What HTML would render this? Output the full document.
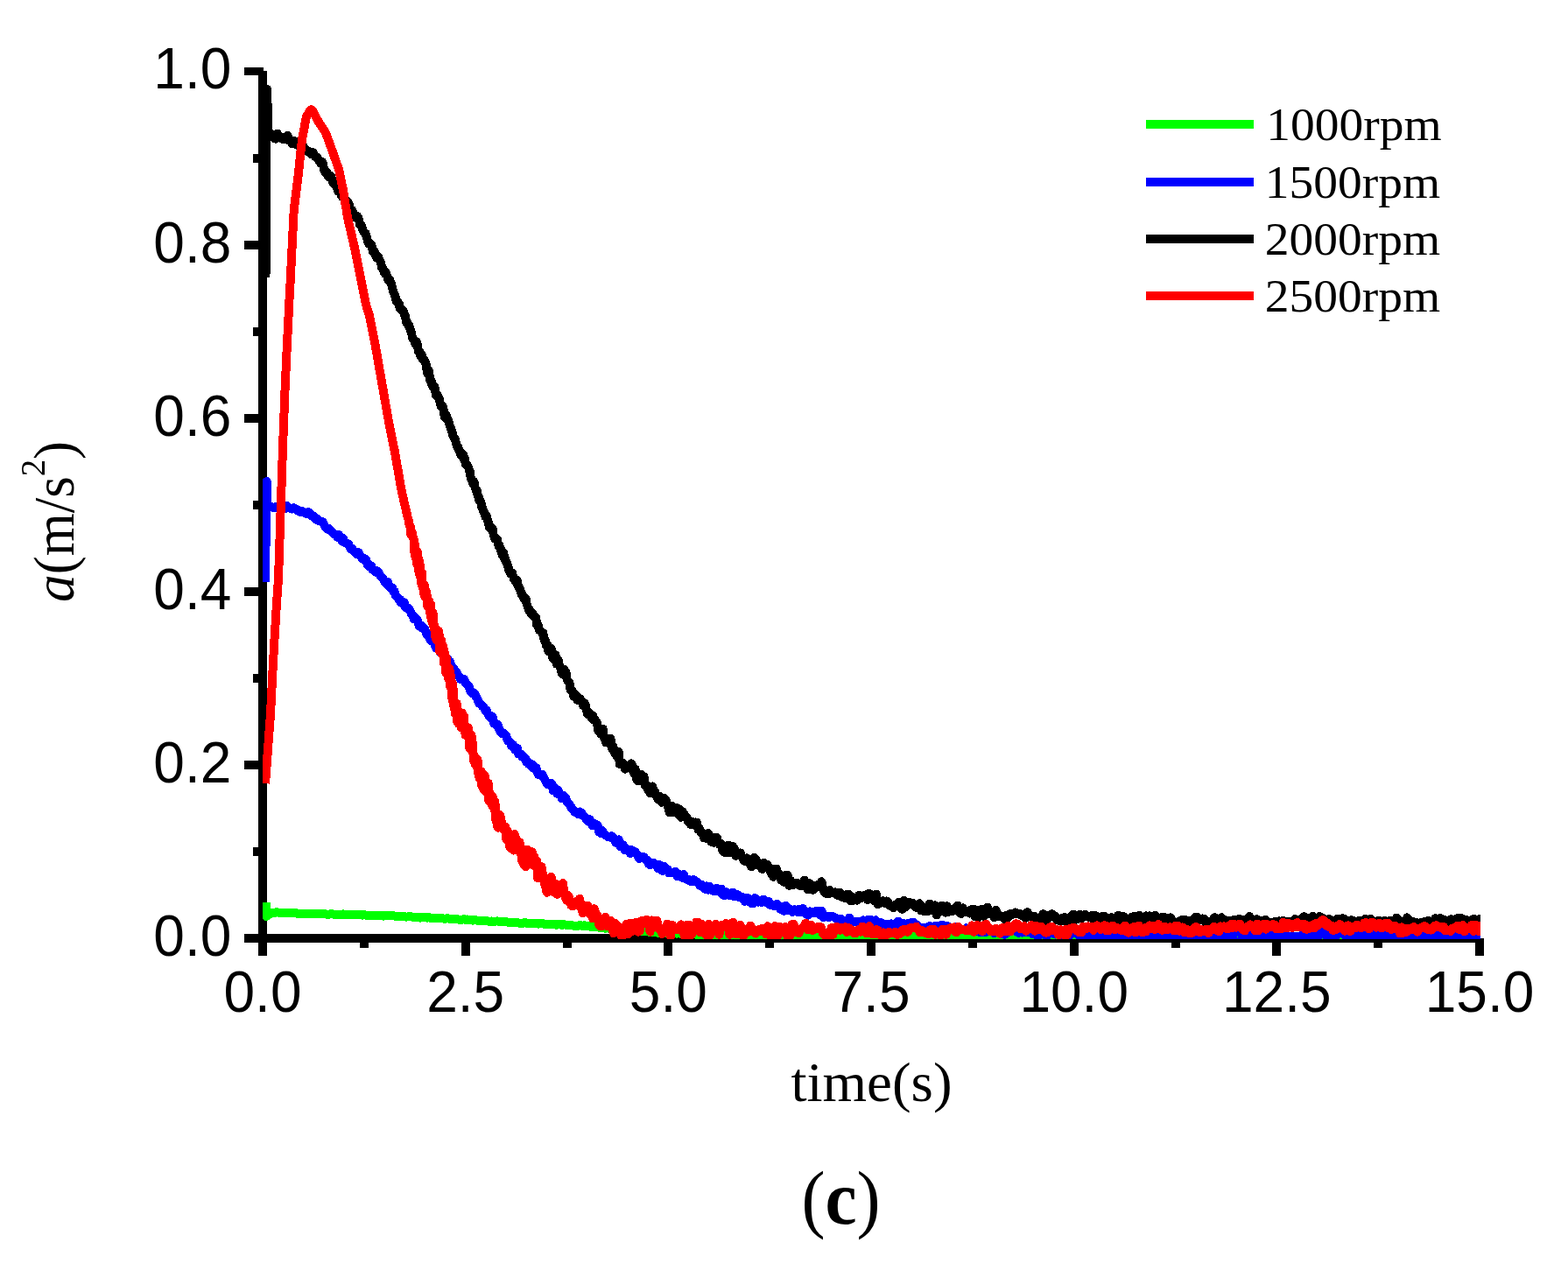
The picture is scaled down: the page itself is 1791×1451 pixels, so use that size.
<!DOCTYPE html>
<html lang="en">
<head>
<meta charset="utf-8">
<title>Acceleration vs time (c)</title>
<style>
html, body { margin: 0; padding: 0; background: #ffffff; }
body { width: 1791px; height: 1451px; overflow: hidden; }
svg { display: block; }
</style>
</head>
<body>
<svg width="1791" height="1451" viewBox="0 0 1791 1451">
<rect x="0" y="0" width="1791" height="1451" fill="#ffffff"/>
<g id="axes" fill="#000" shape-rendering="crispEdges">
<rect x="295" y="81" width="10" height="1011"/>
<rect x="279" y="1067" width="1412" height="10"/>
<rect x="295.0" y="1072" width="10" height="20"/>
<rect x="526.7" y="1072" width="10" height="20"/>
<rect x="758.3" y="1072" width="10" height="20"/>
<rect x="990.0" y="1072" width="10" height="20"/>
<rect x="1221.7" y="1072" width="10" height="20"/>
<rect x="1453.3" y="1072" width="10" height="20"/>
<rect x="1685.0" y="1072" width="10" height="20"/>
<rect x="410.8" y="1072" width="10" height="11"/>
<rect x="642.5" y="1072" width="10" height="11"/>
<rect x="874.2" y="1072" width="10" height="11"/>
<rect x="1105.8" y="1072" width="10" height="11"/>
<rect x="1337.5" y="1072" width="10" height="11"/>
<rect x="1569.2" y="1072" width="10" height="11"/>
<rect x="279" y="868.9" width="20" height="10"/>
<rect x="279" y="670.8" width="20" height="10"/>
<rect x="279" y="472.7" width="20" height="10"/>
<rect x="279" y="274.6" width="20" height="10"/>
<rect x="279" y="77" width="22" height="9"/>
<rect x="289" y="968.0" width="10" height="10"/>
<rect x="289" y="769.8" width="10" height="10"/>
<rect x="289" y="571.8" width="10" height="10"/>
<rect x="289" y="373.6" width="10" height="10"/>
<rect x="289" y="175.5" width="10" height="10"/>
</g>
<clipPath id="plotclip"><rect x="300" y="60" width="1391" height="1013"/></clipPath>
<g id="curves" clip-path="url(#plotclip)" fill="none" stroke-width="10" stroke-linejoin="round" stroke-linecap="butt" shape-rendering="crispEdges">
<polyline stroke="#00ff00" points="304.0,1031.0 304.3,1047.0 310.5,1042.7 312.0,1042.5 314.0,1042.9 316.0,1042.2 318.0,1042.6 320.0,1042.7 322.0,1043.3 324.0,1042.9 326.0,1043.4 328.0,1042.5 330.0,1043.1 332.0,1043.2 334.0,1043.3 336.0,1043.1 338.0,1043.2 340.0,1043.8 342.0,1043.8 344.0,1043.5 346.0,1043.8 348.0,1043.8 350.0,1043.9 352.0,1043.7 354.0,1044.2 356.0,1044.3 358.0,1044.1 360.0,1043.7 362.0,1043.9 364.0,1044.2 366.0,1044.1 368.0,1043.6 370.0,1044.3 372.0,1044.4 374.0,1044.7 376.0,1044.7 378.0,1044.3 380.0,1044.4 382.0,1044.8 384.0,1044.6 386.0,1045.2 388.0,1044.6 390.0,1045.0 392.0,1044.4 394.0,1045.1 396.0,1044.9 398.0,1044.5 400.0,1045.2 402.0,1045.4 404.0,1045.1 406.0,1045.4 408.0,1045.2 410.0,1044.9 412.0,1045.3 414.0,1045.6 416.0,1045.3 418.0,1045.7 420.0,1045.9 422.0,1045.9 424.0,1045.6 426.0,1046.3 428.0,1045.6 430.0,1046.0 432.0,1045.8 433.9,1045.8 435.9,1046.3 437.9,1046.6 439.9,1046.2 441.9,1045.8 443.9,1046.1 445.9,1046.3 447.9,1046.2 449.9,1046.3 451.9,1046.8 453.9,1046.9 455.9,1047.1 457.9,1047.2 459.9,1047.0 461.9,1047.1 463.9,1047.6 465.9,1047.4 467.9,1047.5 469.9,1047.3 471.9,1047.8 473.9,1048.1 475.9,1047.9 477.9,1048.3 479.9,1048.6 481.9,1048.2 483.9,1048.1 485.9,1047.9 487.9,1048.7 489.9,1048.2 491.9,1048.7 493.9,1048.9 495.9,1049.0 497.9,1049.3 499.9,1048.8 501.9,1048.9 503.9,1049.2 505.9,1049.4 507.9,1050.0 509.9,1049.4 511.9,1049.4 513.8,1049.9 515.8,1050.2 517.8,1050.0 519.8,1050.2 521.8,1050.3 523.8,1050.5 525.8,1051.0 527.8,1050.6 529.8,1050.2 531.8,1050.8 533.8,1050.5 535.8,1050.9 537.8,1050.9 539.8,1051.6 541.8,1051.3 543.8,1051.3 545.8,1051.9 547.8,1052.0 549.8,1051.8 551.8,1052.1 553.8,1052.1 555.8,1052.2 557.8,1052.5 559.8,1053.0 561.8,1052.5 563.8,1053.1 565.8,1052.7 567.8,1052.4 569.8,1052.8 571.8,1053.0 573.8,1053.4 575.8,1053.4 577.8,1053.3 579.8,1053.6 581.8,1054.2 583.8,1054.2 585.7,1054.2 587.7,1054.1 589.7,1054.0 591.7,1054.4 593.7,1054.7 595.7,1054.6 597.7,1054.6 599.7,1053.9 601.7,1054.7 603.7,1055.1 605.7,1055.1 607.7,1054.9 609.7,1054.9 611.7,1054.7 613.7,1055.5 615.7,1055.5 617.7,1055.4 619.7,1055.1 621.7,1055.7 623.7,1056.0 625.7,1056.0 627.7,1056.2 629.7,1055.9 631.7,1056.1 633.7,1056.0 635.7,1056.7 637.7,1056.1 639.7,1056.0 641.7,1057.0 643.7,1056.1 645.7,1056.6 647.7,1056.9 649.7,1056.8 651.7,1057.1 653.7,1057.4 655.7,1057.8 657.7,1057.6 659.7,1058.0 661.7,1057.1 663.7,1057.2 665.7,1058.1 667.6,1057.3 669.6,1058.3 671.6,1057.9 673.6,1058.4 675.6,1058.9 677.6,1058.9 679.6,1058.7 681.6,1059.2 683.6,1059.5 685.6,1060.0 687.6,1059.4 689.5,1060.4 691.5,1060.7 693.5,1060.4 695.5,1060.6 697.5,1060.2 699.5,1060.6 701.5,1061.2 703.5,1061.3 705.5,1061.2 707.5,1062.1 709.5,1061.6 711.4,1061.8 713.4,1062.6 715.4,1062.4 717.4,1062.2 719.4,1063.0 721.4,1062.5 723.4,1062.7 725.4,1063.0 727.4,1063.6 729.4,1063.9 731.4,1063.3 733.4,1063.6 735.4,1063.6 737.4,1064.3 739.3,1064.3 741.3,1064.6 743.3,1064.6 745.3,1064.8 747.3,1064.6 749.3,1065.1 751.3,1065.7 753.3,1065.2 755.3,1065.6 757.3,1065.5 759.3,1065.4 761.3,1065.7 763.3,1066.5 765.3,1066.1 767.3,1066.4 769.3,1066.3 771.3,1066.4 773.3,1066.6 775.3,1066.2 777.3,1066.8 779.3,1066.6 781.3,1066.9 783.2,1067.4 785.2,1067.4 787.2,1067.0 789.2,1067.3 791.2,1067.6 793.2,1067.3 795.2,1067.6 797.2,1068.0 799.2,1067.8 801.2,1067.8 803.2,1068.6 805.2,1068.1 807.2,1068.6 809.2,1068.2 811.2,1068.4 813.2,1068.5 815.2,1068.5 817.2,1067.9 819.2,1068.2 821.2,1068.5 823.2,1068.1 825.2,1068.5 827.2,1068.7 829.2,1068.0 831.2,1068.1 833.2,1068.4 835.2,1067.8 837.2,1068.0 839.2,1068.4 841.2,1068.2 843.2,1068.2 845.2,1067.8 847.2,1068.0 849.2,1068.7 851.2,1067.9 853.2,1068.3 855.2,1068.4 857.2,1068.7 859.2,1068.6 861.2,1068.0 863.2,1067.9 865.2,1068.3 867.2,1068.4 869.2,1068.1 871.2,1067.9 873.2,1067.7 875.2,1067.8 877.2,1067.8 879.2,1068.1 881.2,1068.7 883.2,1068.7 885.2,1068.3 887.2,1068.4 889.2,1068.5 891.2,1068.7 893.2,1069.0 895.2,1068.9 897.2,1068.2 899.2,1068.4 901.2,1069.1 903.2,1068.8 905.2,1068.6 907.2,1068.5 909.2,1068.7 911.2,1068.8 913.2,1068.6 915.2,1068.9 917.2,1068.0 919.2,1069.1 921.2,1068.9 923.2,1068.4 925.2,1068.9 927.2,1069.0 929.2,1068.5 931.2,1068.2 933.2,1068.2 935.2,1068.6 937.2,1068.5 939.2,1069.2 941.2,1068.9 943.2,1068.9 945.2,1069.3 947.2,1068.9 949.2,1068.7 951.2,1068.7 953.2,1068.7 955.2,1069.3 957.2,1069.2 959.2,1068.7 961.2,1069.1 963.2,1069.3 965.2,1069.2 967.2,1068.9 969.2,1068.6 971.2,1069.4 973.2,1069.4 975.2,1069.4 977.2,1069.2 979.2,1069.1 981.2,1068.7 983.2,1069.1 985.2,1068.5 987.2,1069.1 989.2,1069.1 991.2,1068.6 993.2,1068.5 995.2,1068.8 997.2,1068.8 999.2,1068.9 1001.2,1069.1 1003.2,1069.3 1005.2,1069.0 1007.2,1069.1 1009.2,1069.4 1011.2,1069.0 1013.2,1069.1 1015.2,1069.3 1017.2,1069.0 1019.2,1069.0 1021.2,1069.2 1023.2,1069.2 1025.2,1068.5 1027.2,1069.5 1029.2,1069.2 1031.2,1069.1 1033.2,1069.2 1035.2,1068.9 1037.2,1069.0 1039.2,1069.2 1041.2,1068.9 1043.2,1068.9 1045.2,1069.4 1047.2,1069.1 1049.2,1069.1 1051.2,1069.4 1053.2,1069.1 1055.2,1069.2 1057.2,1069.4 1059.2,1069.3 1061.2,1068.6 1063.2,1069.1 1065.2,1069.6 1067.2,1068.7 1069.2,1069.5 1071.2,1069.0 1073.2,1069.3 1075.2,1068.7 1077.2,1069.1 1079.2,1069.2 1081.2,1068.7 1083.2,1069.6 1085.2,1068.8 1087.2,1069.5 1089.2,1069.0 1091.2,1068.7 1093.2,1069.0 1095.2,1069.4 1097.2,1069.0 1099.2,1069.0 1101.2,1069.4 1103.2,1069.2 1105.2,1068.8 1107.2,1069.2 1109.2,1069.1 1111.2,1069.0 1113.2,1069.7 1115.2,1069.4 1117.2,1069.5 1119.2,1069.6 1121.2,1069.0 1123.2,1069.6 1125.2,1069.2 1127.2,1068.7 1129.2,1069.6 1131.2,1069.0 1133.2,1069.3 1135.2,1069.8 1137.2,1069.1 1139.2,1069.1 1141.2,1069.8 1143.2,1069.4 1145.2,1069.5 1147.2,1069.9 1149.2,1069.5 1151.2,1069.6 1153.2,1069.0 1155.2,1069.3 1157.2,1069.3 1159.2,1069.1 1161.2,1068.9 1163.2,1069.4 1165.2,1068.9 1167.2,1069.2 1169.2,1069.4 1171.2,1069.2 1173.2,1069.4 1175.2,1069.3 1177.2,1069.0 1179.2,1069.7 1181.2,1069.3 1183.2,1069.8 1185.2,1069.8 1187.2,1069.4 1189.2,1068.9 1191.2,1068.9 1193.2,1069.8 1195.2,1069.7 1197.2,1069.5 1199.2,1068.8 1201.2,1069.3 1203.2,1069.6 1205.2,1069.3 1207.2,1069.1 1209.2,1069.6 1211.2,1069.6 1213.2,1069.1 1215.2,1068.8 1217.2,1069.8 1219.2,1069.4 1221.2,1069.6 1223.2,1068.9 1225.2,1068.9 1227.2,1069.4 1229.2,1069.4 1231.2,1069.6 1233.2,1068.9 1235.2,1069.3 1237.2,1069.0 1239.2,1068.8 1241.2,1069.4 1243.2,1069.6 1245.2,1069.5 1247.2,1069.4 1249.2,1069.2 1251.2,1069.2 1253.2,1069.4 1255.2,1069.7 1257.2,1069.7 1259.2,1068.9 1261.2,1068.8 1263.2,1069.8 1265.2,1069.7 1267.2,1069.5 1269.2,1069.2 1271.2,1069.2 1273.2,1069.2 1275.2,1069.9 1277.2,1069.1 1279.2,1069.5 1281.2,1069.6 1283.2,1069.1 1285.2,1069.1 1287.2,1069.5 1289.2,1069.7 1291.2,1069.6 1293.2,1069.1 1295.2,1069.2 1297.2,1069.5 1299.2,1069.3 1301.2,1068.9 1303.2,1069.2 1305.2,1069.3 1307.2,1069.9 1309.2,1069.3 1311.2,1069.8 1313.2,1069.0 1315.2,1068.9 1317.2,1069.4 1319.2,1069.0 1321.2,1069.6 1323.2,1069.4 1325.2,1069.4 1327.2,1069.5 1329.2,1069.0 1331.2,1069.7 1333.2,1069.6 1335.2,1069.5 1337.2,1069.4 1339.2,1070.1 1341.2,1069.5 1343.2,1070.1 1345.2,1069.8 1347.2,1070.1 1349.2,1069.2 1351.2,1070.0 1353.2,1069.1 1355.2,1069.2 1357.2,1069.1 1359.2,1069.7 1361.2,1069.6 1363.2,1069.4 1365.2,1069.3 1367.2,1069.2 1369.2,1069.7 1371.2,1069.3 1373.2,1069.4 1375.2,1069.7 1377.2,1070.0 1379.2,1070.0 1381.2,1069.9 1383.2,1069.6 1385.2,1069.9 1387.2,1069.4 1389.2,1069.9 1391.2,1070.1 1393.2,1069.2 1395.2,1069.1 1397.2,1069.4 1399.2,1069.7 1401.2,1069.7 1403.2,1070.0 1405.2,1069.6 1407.2,1070.0 1409.2,1069.4 1411.2,1069.8 1413.2,1069.6 1415.2,1069.0 1417.2,1069.0 1419.2,1069.5 1421.2,1069.9 1423.2,1069.0 1425.2,1069.7 1427.2,1069.1 1429.2,1069.7 1431.2,1069.8 1433.2,1069.6 1435.2,1069.0 1437.2,1069.7 1439.2,1069.8 1441.2,1069.5 1443.2,1069.1 1445.2,1069.2 1447.2,1070.1 1449.2,1069.9 1451.2,1070.0 1453.2,1069.8 1455.2,1069.7 1457.2,1069.8 1459.2,1070.2 1461.2,1069.6 1463.2,1069.8 1465.2,1069.7 1467.2,1070.0 1469.2,1069.9 1471.2,1069.9 1473.2,1069.8 1475.2,1069.8 1477.2,1070.0 1479.2,1069.8 1481.2,1069.7 1483.2,1069.7 1485.2,1069.5 1487.2,1069.6 1489.2,1069.5 1491.2,1069.8 1493.2,1070.1 1495.2,1069.5 1497.2,1069.1 1499.2,1069.4 1501.2,1069.6 1503.2,1069.5 1505.2,1070.1 1507.2,1069.1 1509.2,1069.3 1511.2,1069.5 1513.2,1069.6 1515.2,1069.7 1517.2,1069.3 1519.2,1069.3 1521.2,1069.7 1523.2,1069.8 1525.2,1070.2 1527.2,1069.2 1529.2,1069.2 1531.2,1069.6 1533.2,1069.5 1535.2,1069.9 1537.2,1070.3 1539.2,1069.8 1541.2,1069.6 1543.2,1069.7 1545.2,1069.7 1547.2,1069.5 1549.2,1070.4 1551.2,1069.6 1553.2,1069.9 1555.2,1069.9 1557.2,1070.1 1559.2,1069.7 1561.2,1070.4 1563.2,1070.0 1565.2,1069.9 1567.2,1070.0 1569.2,1070.1 1571.2,1070.1 1573.2,1069.8 1575.2,1069.3 1577.2,1070.3 1579.2,1070.2 1581.2,1069.7 1583.2,1069.8 1585.2,1069.6 1587.2,1069.3 1589.2,1070.1 1591.2,1070.2 1593.2,1069.4 1595.2,1069.4 1597.2,1069.7 1599.2,1069.9 1601.2,1070.4 1603.2,1070.2 1605.2,1069.8 1607.2,1069.5 1609.2,1069.4 1611.2,1069.7 1613.2,1069.9 1615.2,1070.5 1617.2,1069.8 1619.2,1070.1 1621.2,1070.2 1623.2,1069.7 1625.2,1070.3 1627.2,1069.5 1629.2,1070.4 1631.2,1069.8 1633.2,1070.4 1635.2,1070.1 1637.2,1070.5 1639.2,1069.8 1641.2,1070.1 1643.2,1069.9 1645.2,1069.4 1647.2,1069.8 1649.2,1069.9 1651.2,1070.4 1653.2,1069.8 1655.2,1070.4 1657.2,1069.9 1659.2,1070.3 1661.2,1069.9 1663.2,1070.3 1665.2,1069.7 1667.2,1069.9 1669.2,1069.6 1671.2,1069.8 1673.2,1069.7 1675.2,1069.8 1677.2,1070.1 1679.2,1069.7 1681.2,1069.6 1683.2,1069.5 1685.2,1069.6 1687.2,1070.0 1689.2,1069.9 1691.2,1070.1 1693.2,1069.9 1695.2,1069.8 1697.2,1069.9 1698.7,1069.9"/>
<polyline stroke="#0000ff" points="302.7,665.0 304.0,600.0 304.8,550.0 305.5,578.0 314.0,580.3 315.5,578.6 317.5,578.9 319.5,578.6 321.5,580.8 323.5,579.5 325.5,581.2 327.5,577.9 329.5,580.0 331.5,580.7 333.5,581.5 335.4,580.3 337.3,581.3 339.2,582.2 341.1,584.2 343.0,584.8 344.9,584.2 346.8,585.0 348.7,586.5 350.6,586.7 352.4,585.1 354.2,587.2 355.8,589.6 357.4,589.2 359.0,590.6 360.5,593.2 362.1,592.6 363.7,594.8 365.2,595.2 366.8,595.9 368.4,596.1 369.9,598.9 371.5,602.3 373.1,603.8 374.6,604.8 376.2,604.2 377.8,606.0 379.3,608.0 380.9,609.1 382.5,610.6 384.0,611.0 385.6,614.0 387.2,611.2 388.7,614.0 390.3,617.9 391.8,614.9 393.3,619.5 394.8,620.7 396.3,620.8 397.8,621.2 399.3,624.6 400.8,627.1 402.2,626.7 403.7,629.2 405.2,630.4 406.7,632.7 408.2,632.1 409.6,631.2 411.1,634.0 412.6,636.3 414.1,638.6 415.5,637.7 416.9,638.4 418.3,639.9 419.7,645.4 421.2,644.3 422.6,647.8 424.0,646.5 425.4,651.0 426.8,651.2 428.2,651.8 429.6,653.9 431.1,652.6 432.5,654.0 433.9,656.7 435.3,659.3 436.6,660.0 437.9,661.8 439.2,664.0 440.5,666.2 441.7,665.1 443.0,665.1 444.2,669.9 445.5,670.1 446.8,672.1 448.0,671.2 449.3,675.9 450.6,675.5 451.8,680.3 453.1,681.2 454.4,682.6 455.6,685.5 456.9,684.8 458.1,688.7 459.4,687.8 460.6,687.6 461.8,688.7 463.0,693.7 464.3,693.9 465.5,695.5 466.7,695.0 467.9,697.3 469.1,699.2 470.4,702.3 471.6,703.3 472.8,707.5 474.0,705.5 475.2,708.2 476.4,707.6 477.7,712.2 478.9,715.5 480.1,715.5 481.3,714.8 482.5,717.9 483.8,716.9 485.0,718.2 486.2,721.7 487.4,724.5 488.6,725.7 489.8,724.4 491.1,730.2 492.3,732.1 493.5,731.2 494.7,733.5 495.9,732.5 497.1,738.0 498.4,740.6 499.6,738.8 500.8,740.9 502.0,742.9 503.2,746.0 504.4,747.1 505.7,746.0 506.9,747.3 508.1,753.7 509.3,751.0 510.6,751.9 511.8,754.1 513.0,756.6 514.2,756.5 515.4,761.6 516.7,762.5 517.9,763.7 519.1,764.8 520.3,769.0 521.6,768.6 522.8,771.3 524.0,772.5 525.2,773.2 526.4,776.5 527.7,775.4 528.9,776.7 530.1,776.0 531.3,779.3 532.5,780.6 533.8,782.4 535.0,783.6 536.2,786.0 537.4,789.8 538.6,791.6 539.9,792.2 541.1,791.8 542.3,792.7 543.5,795.8 544.7,797.5 546.0,800.3 547.2,803.6 548.4,803.6 549.6,805.0 550.8,806.9 552.0,807.0 553.3,809.5 554.5,812.3 555.7,811.4 556.9,815.1 558.1,817.0 559.3,818.7 560.6,820.6 561.8,818.4 563.0,819.9 564.2,826.7 565.4,826.9 566.6,828.0 567.9,827.4 569.1,829.2 570.3,833.2 571.6,835.9 572.9,836.6 574.1,838.5 575.4,837.7 576.7,839.4 578.0,840.2 579.3,844.9 580.6,846.8 581.8,846.8 583.1,849.0 584.4,852.5 585.7,850.7 587.0,852.8 588.2,856.4 589.5,854.4 590.8,854.8 592.1,861.4 593.4,861.3 594.8,861.5 596.1,864.4 597.4,863.9 598.8,866.1 600.1,866.5 601.5,870.9 602.8,870.1 604.2,873.2 605.5,874.1 606.9,875.9 608.2,873.4 609.6,877.8 610.9,877.4 612.3,877.1 613.6,882.5 615.0,885.2 616.4,884.3 617.8,886.0 619.2,884.8 620.6,887.2 622.0,890.3 623.4,893.1 624.8,895.5 626.3,896.4 627.7,895.0 629.1,894.8 630.5,896.2 631.9,903.5 633.3,899.6 634.7,902.2 636.2,906.6 637.6,902.8 639.0,907.1 640.5,909.0 641.9,912.3 643.4,909.0 644.8,909.9 646.3,911.6 647.7,916.3 649.1,917.2 650.6,919.5 652.0,921.7 653.5,924.3 654.9,925.1 656.4,927.8 657.8,927.5 659.3,929.2 660.8,930.2 662.4,927.5 663.9,928.4 665.5,932.0 667.1,932.2 668.6,934.4 670.2,936.8 671.8,938.6 673.3,936.2 674.9,938.5 676.5,943.5 678.0,940.5 679.6,941.6 681.2,942.0 682.7,943.3 684.3,950.4 685.9,951.8 687.4,948.4 689.0,951.0 690.6,952.9 692.1,954.8 693.7,955.2 695.3,956.4 697.0,956.6 698.6,955.4 700.3,956.8 701.9,959.7 703.5,962.8 705.2,959.7 706.8,959.4 708.4,967.1 710.1,966.6 711.7,965.2 713.4,971.1 715.0,969.1 716.7,971.2 718.4,970.7 720.1,975.1 721.8,971.2 723.5,974.4 725.2,973.1 727.0,975.3 728.7,978.2 730.4,981.0 732.1,979.1 733.8,978.7 735.5,979.3 737.3,981.8 739.0,982.5 740.8,986.9 742.6,988.4 744.3,986.6 746.1,985.7 747.9,987.2 749.7,988.1 751.5,992.2 753.3,988.2 755.1,993.8 756.9,995.1 758.6,989.6 760.4,992.5 762.3,992.9 764.1,997.4 766.0,997.3 767.8,996.7 769.7,996.4 771.6,996.1 773.4,1001.2 775.3,998.9 777.1,1001.2 779.0,1002.6 780.8,999.0 782.7,1003.3 784.6,1004.9 786.4,1004.8 788.3,1006.4 790.1,1007.3 792.0,1005.2 793.8,1006.2 795.7,1007.3 797.5,1008.5 799.4,1011.6 801.3,1010.9 803.1,1012.4 805.0,1015.6 806.8,1012.4 808.7,1016.6 810.6,1012.7 812.5,1015.6 814.4,1017.8 816.3,1018.4 818.2,1014.8 820.1,1018.0 822.0,1018.8 823.9,1015.5 825.7,1022.4 827.6,1023.4 829.5,1019.1 831.5,1021.0 833.4,1023.3 835.3,1021.6 837.2,1019.6 839.1,1024.4 841.0,1023.6 842.9,1022.4 844.8,1025.1 846.7,1024.8 848.7,1025.2 850.6,1029.7 852.5,1026.4 854.5,1026.2 856.4,1030.5 858.3,1032.0 860.3,1032.2 862.2,1026.1 864.2,1028.0 866.1,1030.7 868.1,1030.0 870.0,1030.8 871.9,1027.5 873.9,1029.4 875.9,1031.8 877.8,1029.7 879.8,1034.0 881.7,1034.0 883.7,1035.0 885.7,1034.2 887.6,1032.9 889.6,1035.0 891.5,1038.7 893.5,1039.9 895.5,1040.7 897.4,1034.6 899.4,1036.9 901.4,1040.4 903.3,1039.0 905.3,1042.0 907.2,1039.2 909.2,1039.6 911.1,1042.0 913.1,1038.6 915.1,1042.2 917.0,1037.8 919.0,1043.0 921.0,1044.6 923.0,1045.7 924.9,1041.4 926.9,1042.2 928.9,1043.5 930.8,1043.0 932.8,1040.9 934.8,1040.9 936.8,1045.5 938.7,1041.1 940.7,1048.2 942.7,1046.7 944.6,1046.8 946.6,1048.3 948.5,1046.7 950.5,1047.1 952.5,1047.7 954.4,1048.5 956.4,1051.1 958.3,1052.2 960.3,1049.8 962.3,1052.0 964.2,1051.9 966.2,1053.8 968.2,1051.5 970.2,1048.7 972.2,1052.3 974.2,1052.4 976.2,1053.3 978.2,1052.7 980.2,1053.1 982.1,1053.2 984.1,1053.0 986.1,1051.4 988.1,1052.3 990.1,1051.9 992.1,1050.7 994.1,1050.5 996.1,1054.5 998.1,1054.7 1000.1,1051.2 1002.1,1056.1 1004.1,1056.3 1006.0,1054.1 1008.0,1055.7 1010.0,1056.3 1012.0,1056.6 1014.0,1055.8 1016.0,1058.4 1018.0,1055.3 1020.0,1057.4 1022.0,1057.8 1024.0,1057.9 1026.0,1052.5 1028.0,1055.6 1029.9,1059.8 1031.9,1054.9 1033.9,1056.5 1035.9,1056.4 1037.9,1054.6 1039.9,1058.4 1041.9,1053.9 1043.9,1054.0 1045.8,1059.3 1047.8,1057.0 1049.8,1059.2 1051.8,1061.1 1053.8,1059.6 1055.8,1060.9 1057.8,1059.5 1059.8,1059.7 1061.8,1058.2 1063.8,1059.9 1065.8,1060.5 1067.8,1058.0 1069.8,1061.2 1071.8,1057.8 1073.8,1061.4 1075.8,1056.6 1077.8,1059.0 1079.7,1059.9 1081.7,1057.7 1083.7,1062.9 1085.7,1059.5 1087.7,1061.1 1089.7,1060.8 1091.7,1059.3 1093.7,1060.3 1095.7,1061.9 1097.7,1062.0 1099.7,1062.0 1101.7,1062.3 1103.7,1060.4 1105.7,1061.8 1107.7,1061.2 1109.7,1061.1 1111.7,1059.5 1113.7,1064.3 1115.7,1063.6 1117.6,1064.4 1119.6,1065.1 1121.6,1060.7 1123.6,1064.7 1125.6,1065.0 1127.6,1058.9 1129.6,1064.3 1131.6,1062.6 1133.6,1062.0 1135.6,1066.4 1137.6,1062.4 1139.6,1064.2 1141.6,1066.4 1143.6,1067.0 1145.6,1065.9 1147.6,1067.6 1149.6,1066.3 1151.6,1064.7 1153.6,1062.3 1155.6,1063.2 1157.6,1062.2 1159.6,1064.0 1161.6,1060.7 1163.6,1065.8 1165.6,1062.8 1167.6,1065.6 1169.6,1064.3 1171.6,1064.5 1173.6,1065.4 1175.5,1064.6 1177.5,1064.0 1179.5,1067.1 1181.5,1065.1 1183.5,1068.0 1185.5,1069.9 1187.5,1066.7 1189.5,1067.2 1191.5,1065.6 1193.5,1067.3 1195.5,1069.7 1197.5,1066.3 1199.5,1065.5 1201.5,1065.5 1203.5,1066.5 1205.5,1067.5 1207.5,1066.4 1209.5,1067.0 1211.5,1070.4 1213.5,1067.4 1215.5,1066.6 1217.5,1071.4 1219.5,1071.2 1221.5,1069.0 1223.5,1066.2 1225.5,1065.5 1227.5,1066.2 1229.5,1066.8 1231.5,1068.2 1233.5,1065.7 1235.5,1067.6 1237.5,1065.8 1239.5,1066.4 1241.5,1070.6 1243.5,1070.1 1245.5,1069.7 1247.5,1067.9 1249.5,1070.1 1251.5,1066.0 1253.5,1066.8 1255.5,1071.7 1257.5,1071.9 1259.5,1065.8 1261.5,1066.0 1263.5,1069.4 1265.5,1069.2 1267.5,1070.1 1269.5,1066.4 1271.5,1069.6 1273.5,1068.6 1275.5,1071.0 1277.5,1067.7 1279.5,1068.7 1281.5,1071.8 1283.5,1069.3 1285.5,1068.2 1287.5,1071.2 1289.5,1072.4 1291.5,1069.3 1293.5,1066.6 1295.5,1066.9 1297.5,1069.9 1299.5,1065.8 1301.5,1066.6 1303.5,1069.6 1305.5,1069.6 1307.5,1071.1 1309.5,1068.3 1311.5,1069.7 1313.5,1065.6 1315.5,1068.1 1317.5,1070.7 1319.5,1067.4 1321.5,1068.1 1323.5,1068.3 1325.5,1068.5 1327.5,1066.2 1329.5,1067.5 1331.5,1068.5 1333.5,1069.4 1335.5,1070.4 1337.5,1069.3 1339.5,1072.4 1341.5,1070.1 1343.5,1071.2 1345.5,1070.6 1347.5,1072.5 1349.5,1069.7 1351.5,1069.8 1353.5,1069.2 1355.5,1068.2 1357.5,1068.0 1359.5,1070.6 1361.5,1070.9 1363.5,1066.3 1365.5,1067.8 1367.5,1066.0 1369.5,1068.6 1371.5,1067.7 1373.5,1070.3 1375.5,1066.9 1377.5,1069.2 1379.5,1071.3 1381.5,1068.9 1383.5,1071.0 1385.5,1070.8 1387.5,1065.8 1389.5,1071.2 1391.5,1071.6 1393.5,1069.1 1395.5,1066.0 1397.5,1068.9 1399.5,1068.8 1401.5,1069.0 1403.5,1070.5 1405.5,1068.2 1407.5,1070.1 1409.5,1065.5 1411.5,1068.7 1413.5,1070.5 1415.5,1065.1 1417.5,1064.9 1419.5,1069.5 1421.5,1071.1 1423.5,1065.1 1425.5,1069.3 1427.5,1066.9 1429.5,1071.2 1431.5,1070.1 1433.5,1066.3 1435.5,1065.2 1437.5,1070.8 1439.5,1067.4 1441.5,1067.5 1443.5,1068.5 1445.5,1066.0 1447.5,1070.3 1449.5,1069.1 1451.5,1068.2 1453.5,1070.5 1455.5,1070.2 1457.5,1070.0 1459.5,1071.2 1461.5,1069.8 1463.5,1069.0 1465.5,1069.8 1467.5,1069.6 1469.5,1069.6 1471.5,1070.9 1473.5,1070.1 1475.5,1069.5 1477.5,1069.9 1479.5,1070.0 1481.5,1069.8 1483.5,1070.2 1485.5,1069.3 1487.5,1069.4 1489.5,1064.9 1491.5,1068.6 1493.5,1071.4 1495.5,1069.0 1497.5,1065.1 1499.5,1066.9 1501.5,1068.9 1503.5,1067.1 1505.5,1070.7 1507.5,1065.4 1509.5,1065.6 1511.5,1064.9 1513.5,1067.4 1515.5,1070.7 1517.5,1066.0 1519.5,1066.9 1521.5,1068.5 1523.5,1069.1 1525.5,1071.5 1527.5,1065.6 1529.5,1065.8 1531.5,1066.3 1533.5,1066.1 1535.5,1066.6 1537.5,1070.3 1539.5,1070.7 1541.5,1066.6 1543.5,1069.4 1545.5,1068.8 1547.5,1066.1 1549.5,1071.6 1551.5,1068.0 1553.5,1069.5 1555.5,1069.3 1557.5,1068.9 1559.5,1067.7 1561.5,1072.0 1563.5,1071.6 1565.5,1069.0 1567.5,1070.1 1569.5,1070.7 1571.5,1067.1 1573.5,1067.3 1575.5,1065.6 1577.5,1069.8 1579.5,1069.5 1581.5,1067.6 1583.5,1068.6 1585.5,1068.8 1587.5,1068.3 1589.5,1069.1 1591.5,1069.4 1593.5,1065.6 1595.5,1066.5 1597.5,1068.1 1599.5,1066.6 1601.5,1069.5 1603.5,1069.9 1605.5,1068.8 1607.5,1068.1 1609.5,1066.2 1611.5,1067.1 1613.5,1069.0 1615.5,1071.6 1617.5,1068.1 1619.5,1071.0 1621.5,1071.4 1623.5,1069.3 1625.5,1069.8 1627.5,1068.2 1629.5,1071.5 1631.5,1066.3 1633.5,1071.8 1635.5,1069.2 1637.5,1070.0 1639.5,1067.5 1641.5,1065.8 1643.5,1070.6 1645.5,1068.1 1647.5,1069.3 1649.5,1069.8 1651.5,1069.8 1653.5,1069.4 1655.5,1071.0 1657.5,1067.5 1659.5,1069.8 1661.5,1069.2 1663.5,1069.2 1665.5,1065.4 1667.5,1070.2 1669.5,1068.4 1671.5,1069.9 1673.5,1068.8 1675.5,1065.6 1677.5,1071.2 1679.5,1065.6 1681.5,1066.3 1683.5,1066.6 1685.5,1068.8 1687.5,1067.7 1689.5,1070.8 1691.5,1066.1 1693.5,1069.7 1695.5,1065.6 1697.5,1066.9 1699.0,1066.8"/>
<polyline stroke="#000000" points="303.5,317.0 304.5,160.0 305.0,102.0 306.5,150.0 311.5,154.7 313.0,157.7 315.0,158.6 316.9,152.6 318.9,157.2 320.9,156.3 322.9,159.0 324.8,157.3 326.7,159.1 328.5,155.0 330.4,160.6 332.2,161.1 334.0,164.3 335.8,160.8 337.5,163.2 339.3,165.9 341.0,165.8 342.8,168.8 344.5,167.3 346.3,166.7 348.0,169.6 349.8,172.7 351.5,172.3 353.2,173.2 354.7,173.8 356.0,176.4 357.3,174.1 358.6,176.4 359.9,179.0 361.2,179.2 362.4,179.7 363.7,182.6 365.0,184.1 366.3,186.7 367.6,184.6 368.8,186.1 370.0,193.4 371.1,195.9 372.2,197.7 373.3,196.9 374.5,201.0 375.6,202.1 376.7,200.6 377.8,201.1 378.9,204.4 380.1,207.7 381.2,210.0 382.2,209.5 383.3,212.1 384.4,213.1 385.5,216.1 386.5,218.9 387.6,217.1 388.7,218.6 389.8,223.1 390.9,225.1 391.9,221.6 393.1,226.3 394.2,230.3 395.3,229.4 396.4,230.0 397.6,231.5 398.7,233.8 399.8,238.8 401.0,239.2 402.1,240.1 403.2,242.5 404.3,245.3 405.4,247.6 406.3,248.8 407.3,247.2 408.2,247.0 409.1,248.7 410.1,251.8 411.0,256.4 411.9,256.6 412.9,257.5 413.8,260.6 414.7,263.7 415.7,265.1 416.6,265.9 417.5,266.5 418.5,269.7 419.4,273.4 420.3,276.3 421.2,278.4 422.2,278.6 423.1,278.5 424.0,279.5 425.0,282.4 425.9,287.6 426.8,286.3 427.7,287.4 428.7,289.4 429.6,293.4 430.5,294.6 431.5,293.4 432.4,294.0 433.3,297.2 434.2,298.4 435.2,300.7 436.1,305.9 436.9,306.4 437.7,307.5 438.5,310.6 439.4,312.0 440.2,313.3 441.0,311.7 441.8,314.3 442.7,316.5 443.5,319.9 444.3,321.1 445.1,319.5 445.9,322.2 446.8,323.8 447.6,326.7 448.4,329.7 449.2,333.5 450.1,335.3 450.9,337.2 451.7,339.0 452.5,343.2 453.3,345.0 454.2,344.4 455.0,345.9 455.8,346.9 456.6,351.9 457.5,353.1 458.3,354.3 459.1,353.5 459.8,354.2 460.6,354.9 461.3,356.5 462.0,359.9 462.7,360.2 463.5,364.6 464.2,368.3 464.9,369.1 465.7,369.1 466.4,371.6 467.1,371.4 467.9,374.5 468.6,376.5 469.3,378.7 470.1,380.2 470.9,385.4 471.8,387.2 472.7,387.8 473.5,390.1 474.4,392.8 475.3,389.9 476.1,391.7 477.0,394.0 477.8,401.4 478.7,400.8 479.6,405.1 480.4,406.9 481.2,405.1 481.9,405.6 482.7,410.7 483.4,409.6 484.1,410.2 484.8,411.2 485.5,414.2 486.2,415.0 486.9,417.6 487.6,423.6 488.3,426.8 489.0,422.2 489.8,424.0 490.5,428.5 491.2,434.6 491.9,434.0 492.6,438.2 493.4,437.0 494.2,441.5 494.9,442.5 495.7,440.8 496.5,441.9 497.2,446.3 498.0,451.8 498.8,450.1 499.5,450.8 500.3,453.3 501.1,454.6 501.8,455.0 502.6,459.6 503.4,463.4 504.1,464.2 504.8,465.2 505.6,463.9 506.3,465.8 507.0,472.2 507.8,476.0 508.5,476.9 509.3,473.5 510.0,475.0 510.7,479.2 511.5,478.9 512.2,481.6 512.9,482.7 513.7,486.3 514.4,488.3 515.2,490.0 516.0,492.6 516.8,494.9 517.6,498.5 518.4,499.5 519.2,500.4 520.0,501.7 520.8,505.5 521.6,508.3 522.4,510.5 523.2,510.2 524.0,514.3 524.8,515.3 525.5,516.8 526.3,519.3 527.1,517.7 527.8,521.6 528.6,520.8 529.4,519.8 530.1,524.8 530.9,523.7 531.6,529.8 532.4,531.0 533.1,531.9 533.9,531.7 534.6,533.5 535.4,534.6 536.1,538.5 536.9,539.2 537.6,545.6 538.3,547.1 539.0,547.9 539.7,551.5 540.4,551.5 541.2,550.1 541.9,551.9 542.6,556.8 543.3,558.8 544.0,560.9 544.7,560.7 545.4,564.5 546.1,567.1 546.8,567.3 547.5,572.4 548.3,572.8 549.0,573.0 549.8,575.7 550.5,580.2 551.3,581.0 552.0,584.4 552.8,584.2 553.5,586.3 554.3,590.3 555.1,590.5 555.8,588.9 556.6,593.5 557.3,595.3 558.1,597.3 558.8,602.4 559.6,601.4 560.5,604.1 561.3,603.9 562.1,603.4 562.9,604.6 563.7,611.4 564.6,613.5 565.4,615.9 566.2,615.0 567.0,616.3 567.8,615.9 568.6,620.2 569.5,623.8 570.3,623.0 571.1,625.8 572.0,628.5 572.8,628.8 573.7,634.6 574.5,633.8 575.4,632.3 576.2,638.2 577.1,638.4 577.9,641.5 578.8,642.7 579.6,646.2 580.5,647.0 581.4,651.8 582.3,653.6 583.2,655.6 584.1,655.0 585.0,654.5 586.0,657.9 586.9,661.2 587.8,662.0 588.7,664.4 589.7,663.2 590.6,663.2 591.5,669.3 592.4,670.1 593.3,672.3 594.2,673.4 595.0,676.0 595.8,679.6 596.6,679.2 597.5,682.0 598.3,683.8 599.1,683.4 599.9,682.9 600.8,684.4 601.6,690.4 602.5,692.2 603.4,695.4 604.2,697.2 605.1,697.1 606.0,699.1 606.9,701.8 607.8,700.2 608.7,702.1 609.6,704.1 610.5,704.8 611.4,704.5 612.2,705.5 613.1,713.9 614.0,713.5 614.9,715.3 615.8,719.8 616.7,719.9 617.6,721.2 618.5,721.6 619.4,724.0 620.3,723.0 621.2,728.8 622.1,732.0 623.0,731.8 623.9,737.8 624.8,735.8 625.7,741.7 626.6,744.3 627.5,743.1 628.4,742.3 629.4,740.8 630.5,743.2 631.5,752.4 632.5,751.1 633.5,749.7 634.6,748.4 635.6,758.7 636.6,755.9 637.7,754.5 638.7,759.3 639.7,762.1 640.7,764.4 641.7,768.9 642.7,770.2 643.7,766.0 644.6,765.1 645.6,768.1 646.6,768.5 647.5,776.1 648.5,777.6 649.4,779.2 650.4,779.9 651.4,787.4 652.3,789.1 653.3,788.5 654.2,790.3 655.2,795.7 656.3,796.1 657.4,793.8 658.5,795.1 659.6,800.1 660.6,800.4 661.7,798.0 662.8,798.2 663.9,801.7 665.0,802.9 666.2,806.3 667.5,803.4 668.7,804.9 669.9,811.3 671.1,815.8 672.4,814.7 673.6,814.9 674.8,817.9 676.0,820.4 677.3,817.8 678.5,822.8 679.7,822.1 680.9,824.7 682.0,825.8 683.1,834.2 684.2,836.2 685.3,835.4 686.5,838.8 687.6,832.9 688.7,832.9 689.8,841.8 690.9,844.5 692.0,848.2 693.1,847.5 694.2,844.6 695.2,848.9 696.3,846.4 697.3,843.7 698.3,848.2 699.4,856.0 700.4,852.5 701.4,858.8 702.5,861.3 703.5,859.4 704.5,863.9 705.6,860.5 706.6,858.8 707.8,873.1 709.3,870.9 710.8,871.2 712.3,873.0 713.8,878.6 715.3,877.9 716.8,876.4 718.3,874.4 719.8,878.0 721.3,872.4 722.8,875.5 724.3,883.6 725.7,878.8 727.2,890.9 728.6,892.3 730.0,890.8 731.4,886.0 732.8,884.9 734.2,892.8 735.6,887.4 737.0,897.2 738.4,897.4 739.8,901.6 741.2,901.4 742.6,906.2 744.0,904.5 745.3,898.5 746.7,904.5 748.0,904.2 749.3,909.0 750.7,910.7 752.0,913.6 753.3,909.8 754.7,911.6 756.0,916.8 757.3,913.0 758.7,911.8 760.0,913.4 761.5,916.6 763.1,921.4 764.7,928.2 766.3,926.0 768.0,921.1 769.6,928.3 771.3,922.9 772.9,922.9 774.5,930.4 776.2,924.5 777.8,933.8 779.5,927.4 781.1,929.8 782.8,932.7 784.4,933.8 786.0,938.8 787.7,939.1 789.3,942.4 791.0,939.0 792.6,941.0 794.3,939.5 795.9,939.7 797.5,947.9 799.2,947.1 800.8,951.4 802.5,951.7 804.1,957.3 805.7,957.4 807.4,958.4 809.0,952.2 810.6,955.9 812.3,961.8 813.9,962.2 815.5,962.7 817.2,957.1 818.8,957.0 820.4,962.4 822.1,965.3 823.7,963.7 825.3,972.0 827.0,973.4 828.6,974.4 830.3,968.8 832.0,965.5 833.7,974.2 835.4,970.2 837.2,967.1 838.9,969.5 840.6,977.7 842.3,975.8 844.0,976.6 845.7,974.4 847.4,979.2 849.1,982.3 850.9,984.0 852.7,980.4 854.5,982.0 856.3,986.6 858.1,990.2 859.9,989.2 861.7,979.7 863.5,982.2 865.3,987.4 867.1,987.8 868.9,990.7 870.7,993.0 872.5,985.9 874.3,989.8 876.1,987.7 877.9,991.0 879.7,994.7 881.5,998.6 883.3,1001.8 885.0,992.5 886.8,992.6 888.6,997.6 890.4,998.5 892.2,1005.5 894.0,1004.9 895.8,1008.0 897.7,999.9 899.6,1000.1 901.5,1011.9 903.4,1006.3 905.4,1011.5 907.3,1008.5 909.2,1009.9 911.1,1009.2 913.0,1011.6 914.9,1009.8 916.8,1012.3 918.7,1005.5 920.7,1012.5 922.7,1016.4 924.6,1009.3 926.6,1015.2 928.6,1016.8 930.5,1014.4 932.5,1011.4 934.4,1011.3 936.4,1013.2 938.4,1007.3 940.3,1016.9 942.3,1019.7 944.2,1021.0 946.1,1021.4 948.0,1017.2 950.0,1019.7 951.9,1020.3 953.8,1019.4 955.7,1022.1 957.7,1023.1 959.6,1019.7 961.5,1024.9 963.5,1022.8 965.5,1026.4 967.4,1021.8 969.4,1021.7 971.3,1029.1 973.3,1029.2 975.3,1025.4 977.2,1028.3 979.2,1028.6 981.2,1022.8 983.1,1026.4 985.1,1024.2 987.1,1022.8 989.0,1022.3 991.0,1028.2 992.9,1020.8 994.9,1022.8 996.9,1027.7 998.8,1029.2 1000.8,1021.7 1002.7,1033.3 1004.7,1032.2 1006.7,1030.3 1008.6,1029.3 1010.6,1031.9 1012.6,1029.4 1014.5,1031.5 1016.5,1034.7 1018.5,1035.4 1020.5,1037.4 1022.4,1034.0 1024.4,1035.5 1026.4,1030.6 1028.4,1036.0 1030.4,1038.9 1032.3,1028.7 1034.3,1036.4 1036.3,1031.4 1038.3,1030.7 1040.3,1033.0 1042.3,1031.7 1044.2,1033.6 1046.2,1036.5 1048.2,1035.4 1050.2,1032.2 1052.2,1040.5 1054.1,1035.9 1056.1,1041.4 1058.1,1039.3 1060.1,1041.0 1062.0,1032.5 1064.0,1040.1 1066.0,1039.4 1068.0,1034.4 1069.9,1045.4 1071.9,1036.4 1073.9,1041.3 1075.9,1034.5 1077.9,1041.6 1079.9,1042.6 1081.9,1035.3 1083.9,1041.7 1085.9,1038.7 1087.9,1041.1 1089.9,1038.5 1091.9,1036.4 1093.9,1034.6 1095.8,1042.4 1097.8,1044.1 1099.8,1037.4 1101.8,1041.3 1103.8,1042.0 1105.8,1040.8 1107.8,1043.6 1109.8,1039.0 1111.8,1038.6 1113.8,1047.5 1115.8,1040.1 1117.7,1048.1 1119.7,1043.0 1121.7,1038.7 1123.7,1046.9 1125.7,1045.0 1127.7,1036.5 1129.7,1044.0 1131.7,1044.0 1133.7,1042.6 1135.7,1048.3 1137.7,1039.9 1139.7,1045.8 1141.7,1047.1 1143.7,1047.0 1145.7,1047.2 1147.7,1050.2 1149.7,1045.8 1151.6,1048.0 1153.6,1044.2 1155.6,1045.2 1157.6,1043.7 1159.6,1042.5 1161.5,1043.2 1163.5,1044.6 1165.5,1044.2 1167.5,1046.2 1169.5,1045.6 1171.5,1048.7 1173.5,1042.2 1175.5,1046.0 1177.5,1047.4 1179.5,1047.1 1181.5,1046.9 1183.5,1049.7 1185.5,1051.4 1187.5,1052.1 1189.5,1048.3 1191.5,1044.2 1193.5,1049.0 1195.4,1052.0 1197.4,1046.6 1199.4,1045.4 1201.4,1044.1 1203.4,1047.7 1205.4,1046.9 1207.4,1051.1 1209.4,1051.6 1211.4,1052.1 1213.4,1048.9 1215.4,1048.2 1217.4,1052.8 1219.4,1053.1 1221.4,1053.4 1223.4,1046.7 1225.4,1044.7 1227.4,1045.1 1229.4,1050.5 1231.4,1050.0 1233.4,1044.9 1235.3,1049.2 1237.3,1045.5 1239.3,1044.9 1241.3,1047.2 1243.3,1047.7 1245.3,1048.4 1247.3,1045.9 1249.3,1050.4 1251.3,1046.2 1253.3,1048.9 1255.3,1052.4 1257.3,1053.9 1259.3,1046.9 1261.3,1046.9 1263.3,1049.6 1265.3,1052.4 1267.3,1049.4 1269.3,1048.4 1271.3,1050.5 1273.3,1049.0 1275.3,1049.5 1277.3,1045.6 1279.3,1052.0 1281.3,1053.1 1283.3,1046.9 1285.3,1052.9 1287.3,1049.7 1289.3,1054.1 1291.3,1049.6 1293.3,1047.6 1295.3,1046.8 1297.3,1054.6 1299.3,1049.3 1301.3,1045.7 1303.3,1051.0 1305.3,1048.7 1307.3,1053.9 1309.3,1046.4 1311.3,1049.3 1313.3,1046.4 1315.3,1049.2 1317.3,1050.4 1319.3,1045.6 1321.3,1050.6 1323.3,1053.9 1325.3,1053.7 1327.3,1048.0 1329.3,1047.7 1331.3,1048.8 1333.3,1053.7 1335.3,1049.9 1337.3,1048.3 1339.3,1055.5 1341.3,1055.5 1343.3,1056.0 1345.3,1053.1 1347.3,1056.0 1349.3,1051.2 1351.3,1055.8 1353.3,1050.8 1355.3,1051.9 1357.3,1051.6 1359.3,1054.5 1361.3,1054.5 1363.3,1049.9 1365.3,1048.1 1367.3,1047.6 1369.3,1049.5 1371.3,1051.4 1373.3,1049.4 1375.3,1049.7 1377.3,1053.6 1379.3,1052.7 1381.3,1054.1 1383.3,1055.5 1385.3,1051.4 1387.3,1048.1 1389.3,1053.1 1391.3,1054.0 1393.3,1052.1 1395.3,1048.3 1397.3,1052.5 1399.3,1051.0 1401.3,1054.7 1403.3,1054.8 1405.3,1051.9 1407.3,1051.9 1409.3,1050.8 1411.3,1052.0 1413.3,1056.2 1415.3,1050.2 1417.3,1050.2 1419.3,1054.3 1421.3,1055.5 1423.3,1050.3 1425.3,1053.8 1427.3,1047.1 1429.3,1053.8 1431.3,1053.5 1433.3,1052.3 1435.3,1050.2 1437.3,1054.5 1439.3,1052.6 1441.3,1052.3 1443.3,1052.3 1445.3,1050.8 1447.3,1055.0 1449.3,1053.5 1451.3,1055.3 1453.3,1053.9 1455.3,1053.5 1457.3,1052.6 1459.3,1057.3 1461.3,1052.4 1463.3,1057.1 1465.3,1051.9 1467.3,1055.0 1469.3,1056.7 1471.3,1052.6 1473.3,1052.9 1475.3,1056.0 1477.3,1052.4 1479.3,1050.1 1481.3,1052.0 1483.3,1055.2 1485.3,1051.8 1487.3,1049.1 1489.3,1047.2 1491.3,1055.3 1493.3,1056.3 1495.3,1049.0 1497.3,1050.8 1499.3,1046.9 1501.3,1050.3 1503.3,1051.7 1505.3,1055.4 1507.3,1046.9 1509.3,1051.6 1511.3,1049.1 1513.3,1054.9 1515.3,1056.6 1517.3,1050.3 1519.3,1050.4 1521.3,1053.2 1523.3,1055.9 1525.3,1056.7 1527.3,1050.1 1529.3,1050.4 1531.3,1052.6 1533.3,1049.3 1535.3,1049.6 1537.3,1056.2 1539.3,1055.4 1541.3,1052.0 1543.3,1051.4 1545.3,1051.6 1547.3,1053.0 1549.3,1057.4 1551.3,1052.9 1553.3,1051.6 1555.3,1057.6 1557.3,1052.9 1559.3,1049.8 1561.3,1055.3 1563.3,1057.6 1565.3,1049.8 1567.3,1051.8 1569.3,1056.2 1571.3,1055.2 1573.3,1052.4 1575.3,1051.9 1577.3,1056.6 1579.3,1055.4 1581.3,1051.6 1583.3,1052.5 1585.3,1052.6 1587.3,1051.9 1589.3,1056.1 1591.3,1053.3 1593.3,1051.5 1595.3,1048.6 1597.3,1051.6 1599.3,1052.1 1601.3,1055.7 1603.3,1054.3 1605.3,1055.8 1607.3,1048.4 1609.3,1051.1 1611.3,1054.3 1613.3,1052.7 1615.3,1057.1 1617.3,1053.7 1619.3,1054.5 1621.3,1058.1 1623.3,1053.8 1625.3,1054.9 1627.3,1053.0 1629.3,1057.3 1631.3,1051.6 1633.3,1055.2 1635.3,1056.1 1637.3,1057.3 1639.3,1049.2 1641.3,1052.9 1643.3,1054.9 1645.3,1049.0 1647.3,1052.7 1649.3,1050.9 1651.3,1056.2 1653.3,1053.6 1655.3,1053.5 1657.3,1050.2 1659.3,1054.0 1661.3,1054.3 1663.3,1056.1 1665.3,1048.6 1667.3,1056.6 1669.3,1049.2 1671.3,1053.4 1673.3,1053.7 1675.3,1051.0 1677.3,1054.7 1679.3,1052.7 1681.3,1051.0 1683.3,1049.9 1685.3,1051.3 1687.3,1054.7 1689.3,1055.2 1691.3,1049.5 1693.3,1052.3 1695.3,1052.5 1697.3,1050.8 1698.8,1049.8"/>
<polyline stroke="#ff0000" points="303.0,895.0 303.2,893.5 303.3,891.5 303.5,889.5 303.6,887.5 303.8,885.5 303.9,883.5 304.1,881.5 304.2,879.5 304.4,877.6 304.5,875.6 304.7,873.6 304.8,871.6 305.0,869.6 305.1,867.6 305.3,865.6 305.4,863.6 305.6,861.6 305.7,859.6 305.9,857.6 306.0,855.6 306.2,853.6 306.3,851.6 306.5,849.6 306.6,847.6 306.8,845.6 306.9,843.6 307.1,841.7 307.2,839.7 307.4,837.7 307.5,835.7 307.7,833.7 307.8,831.7 308.0,829.7 308.1,827.7 308.3,825.7 308.4,823.7 308.6,821.7 308.7,819.7 308.9,817.7 309.0,815.7 309.1,813.7 309.2,811.7 309.3,809.7 309.4,807.7 309.5,805.7 309.6,803.7 309.7,801.7 309.8,799.7 309.9,797.7 310.0,795.8 310.1,793.8 310.2,791.8 310.3,789.8 310.4,787.8 310.5,785.8 310.6,783.8 310.7,781.8 310.8,779.8 310.9,777.8 311.0,775.8 311.1,773.8 311.2,771.8 311.3,769.8 311.4,767.8 311.5,765.8 311.6,763.8 311.8,761.8 311.9,759.8 312.0,757.8 312.1,755.8 312.2,753.8 312.3,751.8 312.4,749.8 312.5,747.8 312.6,745.8 312.7,743.8 312.8,741.8 312.9,739.8 313.1,737.8 313.2,735.8 313.3,733.8 313.4,731.8 313.5,729.8 313.7,727.8 313.8,725.9 313.9,723.9 314.0,721.9 314.1,719.9 314.3,717.9 314.4,715.9 314.5,713.9 314.6,711.9 314.7,709.9 314.8,707.9 315.0,705.9 315.1,703.9 315.2,701.9 315.3,699.9 315.4,697.9 315.6,695.9 315.7,693.9 315.8,691.9 315.9,689.9 316.1,687.9 316.2,685.9 316.4,683.9 316.5,681.9 316.6,679.9 316.8,677.9 316.9,676.0 317.0,674.0 317.2,672.0 317.3,670.0 317.5,668.0 317.6,666.0 317.7,664.0 317.9,662.0 318.0,660.0 318.1,658.0 318.1,656.0 318.2,654.0 318.3,652.0 318.3,650.0 318.4,648.0 318.5,646.0 318.6,644.0 318.6,642.0 318.7,640.0 318.8,638.0 318.8,636.0 318.9,634.0 319.0,632.0 319.0,630.0 319.1,628.0 319.2,626.0 319.2,624.0 319.3,622.0 319.4,620.0 319.4,618.0 319.5,616.0 319.6,614.0 319.6,612.0 319.7,610.0 319.8,608.0 319.8,606.0 319.9,604.0 320.0,602.0 320.0,600.0 320.1,598.0 320.1,596.0 320.2,594.0 320.3,592.0 320.3,590.0 320.4,588.0 320.5,586.0 320.5,584.0 320.6,582.0 320.7,580.0 320.7,578.0 320.8,576.0 320.9,574.0 320.9,572.0 321.0,570.0 321.1,568.0 321.1,566.0 321.2,564.0 321.3,562.0 321.3,560.0 321.4,558.0 321.5,556.0 321.5,554.0 321.6,552.0 321.7,550.1 321.7,548.1 321.8,546.1 321.9,544.1 322.0,542.1 322.0,540.1 322.1,538.1 322.2,536.1 322.2,534.1 322.3,532.1 322.4,530.1 322.4,528.1 322.5,526.1 322.6,524.1 322.6,522.1 322.7,520.1 322.8,518.1 322.8,516.1 322.9,514.1 323.0,512.1 323.0,510.1 323.1,508.1 323.2,506.1 323.3,504.1 323.3,502.1 323.4,500.1 323.5,498.1 323.5,496.1 323.6,494.1 323.7,492.1 323.8,490.1 323.8,488.1 323.9,486.1 324.0,484.1 324.1,482.1 324.1,480.1 324.2,478.1 324.3,476.1 324.4,474.1 324.5,472.1 324.5,470.1 324.6,468.1 324.7,466.1 324.8,464.1 324.9,462.1 324.9,460.1 325.0,458.1 325.1,456.1 325.2,454.1 325.2,452.1 325.3,450.1 325.4,448.1 325.5,446.1 325.6,444.1 325.6,442.1 325.7,440.1 325.8,438.1 325.9,436.1 326.0,434.1 326.1,432.1 326.2,430.1 326.3,428.1 326.4,426.1 326.5,424.1 326.6,422.1 326.7,420.1 326.8,418.2 326.9,416.2 327.0,414.2 327.1,412.2 327.2,410.2 327.2,408.2 327.3,406.2 327.4,404.2 327.5,402.2 327.6,400.2 327.7,398.2 327.8,396.2 327.9,394.2 328.0,392.2 328.1,390.2 328.2,388.2 328.3,386.2 328.4,384.2 328.5,382.2 328.6,380.2 328.7,378.2 328.8,376.2 328.9,374.2 329.0,372.2 329.1,370.2 329.2,368.2 329.3,366.2 329.4,364.2 329.5,362.2 329.6,360.2 329.7,358.2 329.8,356.2 329.9,354.2 330.0,352.2 330.1,350.2 330.2,348.2 330.3,346.2 330.4,344.2 330.5,342.2 330.6,340.2 330.7,338.2 330.8,336.3 330.9,334.3 331.1,332.3 331.2,330.3 331.3,328.3 331.4,326.3 331.5,324.3 331.6,322.3 331.7,320.3 331.8,318.3 331.9,316.3 332.0,314.3 332.1,312.3 332.2,310.3 332.3,308.3 332.4,306.3 332.5,304.3 332.6,302.3 332.7,300.3 332.8,298.3 332.9,296.3 333.0,294.3 333.1,292.3 333.2,290.3 333.3,288.3 333.4,286.3 333.5,284.3 333.6,282.3 333.7,280.3 333.8,278.3 333.9,276.3 334.0,274.3 334.1,272.3 334.2,270.3 334.3,268.3 334.4,266.3 334.5,264.3 334.6,262.3 334.7,260.4 334.8,258.4 334.9,256.4 335.0,254.4 335.1,252.4 335.2,250.4 335.3,248.4 335.4,246.4 335.5,244.4 335.6,242.4 335.7,240.4 335.9,238.4 336.1,236.4 336.4,234.4 336.6,232.4 336.9,230.4 337.1,228.5 337.4,226.5 337.6,224.5 337.9,222.5 338.1,220.5 338.3,218.5 338.6,216.6 338.8,214.6 339.1,212.6 339.3,210.6 339.6,208.6 339.8,206.6 340.1,204.6 340.3,202.7 340.6,200.7 340.8,198.7 341.1,196.7 341.3,194.7 341.5,192.7 341.7,190.7 341.9,188.8 342.1,186.8 342.3,184.8 342.5,182.8 342.7,180.8 342.9,178.8 343.1,176.8 343.3,174.8 343.5,172.8 343.8,170.8 344.0,168.9 344.2,166.9 344.4,164.9 344.6,162.9 344.8,160.9 345.1,158.9 345.5,157.0 345.8,155.0 346.2,153.0 346.6,151.1 347.0,149.1 347.3,147.1 347.7,145.2 348.1,143.2 348.4,141.2 348.8,139.3 349.2,137.3 349.6,135.3 350.1,133.4 350.9,131.7 352.0,130.0 353.0,128.3 354.1,126.6 355.2,125.3 356.2,125.3 357.2,126.6 358.1,128.3 359.0,130.1 360.0,131.9 360.9,133.6 361.8,135.4 362.8,137.2 363.7,138.9 364.8,140.6 365.9,142.3 367.0,144.0 368.1,145.6 369.2,147.3 370.3,149.0 371.4,150.7 372.3,152.4 373.0,154.3 373.7,156.2 374.4,158.0 375.0,159.9 375.7,161.8 376.4,163.7 377.1,165.6 377.8,167.4 378.4,169.3 379.1,171.2 379.8,173.1 380.5,175.0 381.1,176.9 381.8,178.7 382.5,180.6 383.1,182.5 383.8,184.4 384.5,186.3 385.1,188.2 385.8,190.1 386.5,191.9 387.1,193.8 387.6,195.8 388.0,197.7 388.4,199.7 388.8,201.7 389.2,203.6 389.6,205.6 390.0,207.5 390.4,209.5 390.8,211.5 391.2,213.4 391.6,215.4 391.9,217.3 392.2,219.3 392.6,221.3 392.9,223.3 393.2,225.2 393.5,227.2 393.9,229.2 394.2,231.2 394.5,233.1 394.8,235.1 395.2,237.1 395.5,239.0 395.8,241.0 396.1,243.0 396.5,245.0 396.8,246.9 397.1,248.9 397.5,250.9 398.0,252.8 398.4,254.8 398.9,256.7 399.3,258.7 399.8,260.6 400.2,262.6 400.7,264.5 401.1,266.5 401.6,268.4 402.0,270.4 402.5,272.3 403.0,274.2 403.4,276.2 403.9,278.1 404.3,280.1 404.8,282.0 405.2,284.0 405.6,286.0 406.0,287.9 406.4,289.9 406.8,291.8 407.2,293.8 407.6,295.8 407.9,297.7 408.3,299.7 408.7,301.6 409.1,303.6 409.5,305.6 409.9,307.5 410.3,309.5 410.7,311.5 411.1,313.4 411.5,315.4 411.9,317.3 412.3,319.3 412.7,321.3 413.1,323.2 413.5,325.2 413.9,327.1 414.3,329.1 414.7,331.1 415.1,333.0 415.4,335.0 415.8,336.9 416.2,338.9 416.6,340.9 417.0,342.8 417.4,344.8 417.8,346.7 418.3,348.7 418.7,350.6 419.3,352.5 420.0,354.4 420.6,356.3 421.2,358.2 421.8,360.1 422.2,362.1 422.6,364.1 423.0,366.0 423.4,368.0 423.8,369.9 424.2,371.9 424.6,373.9 425.0,375.8 425.4,377.8 425.7,379.7 426.1,381.7 426.5,383.7 426.9,385.6 427.3,387.6 427.7,389.6 428.1,391.5 428.5,393.5 428.8,395.4 429.2,397.4 429.5,399.4 429.9,401.4 430.2,403.3 430.6,405.3 430.9,407.3 431.3,409.2 431.6,411.2 431.9,413.2 432.3,415.1 432.6,417.1 433.0,419.1 433.3,421.1 433.7,423.0 434.0,425.0 434.4,427.0 434.7,428.9 435.1,430.9 435.4,432.9 435.7,434.8 436.1,436.8 436.4,438.8 436.8,440.8 437.1,442.7 437.5,444.7 437.8,446.7 438.2,448.6 438.5,450.6 438.9,452.6 439.2,454.5 439.5,456.5 439.9,458.5 440.2,460.5 440.6,462.4 440.9,464.4 441.3,466.4 441.6,468.3 442.0,470.3 442.3,472.3 442.7,474.2 443.0,476.2 443.4,478.2 443.7,480.2 444.1,482.1 444.4,484.1 444.8,486.0 445.2,488.0 445.6,490.0 446.0,491.9 446.4,493.9 446.8,495.8 447.2,497.8 447.6,499.8 448.0,501.7 448.4,503.7 448.8,505.6 449.2,507.6 449.6,509.6 450.0,511.5 450.4,513.5 450.8,515.4 451.1,517.4 451.5,519.4 451.8,521.4 452.2,523.3 452.5,525.3 452.9,527.3 453.2,529.2 453.5,531.2 453.9,533.2 454.2,535.1 454.6,537.1 454.9,539.1 455.2,541.1 455.6,543.0 455.9,545.0 456.3,547.0 456.6,548.9 457.0,550.9 457.3,552.9 457.6,554.9 458.0,556.8 458.3,558.8 458.7,560.8 459.1,562.7 459.6,564.7 460.0,566.6 460.5,568.6 460.9,570.5 461.4,572.5 461.8,574.4 462.3,576.4 462.7,578.3 463.2,580.2 463.6,582.2 464.1,584.1 464.5,586.1 465.0,588.0 465.4,590.3 465.9,591.6 466.4,593.2 466.8,595.0 467.3,599.0 467.7,600.2 468.2,600.5 468.6,600.9 469.1,607.1 469.5,611.4 470.0,610.5 470.4,607.5 470.9,609.1 471.3,611.7 471.8,614.4 472.2,614.5 472.7,616.2 473.1,626.2 473.6,632.3 474.0,622.6 474.5,637.3 474.9,631.3 475.4,638.0 475.9,642.1 476.3,644.5 476.8,630.7 477.2,638.3 477.7,646.1 478.1,652.5 478.6,639.8 479.1,645.8 479.5,657.8 480.0,646.1 480.4,653.6 480.7,654.4 481.1,660.7 481.5,667.7 481.9,654.3 482.3,667.8 482.7,669.7 483.1,672.1 483.5,668.3 483.9,677.9 484.3,668.2 484.7,671.3 485.1,669.0 485.5,682.4 486.1,678.0 486.8,675.4 487.5,679.2 488.2,692.8 488.8,692.3 489.4,691.8 490.0,686.7 490.5,690.8 491.1,690.1 491.6,704.2 492.2,691.2 492.7,702.7 493.3,710.5 493.8,710.7 494.4,699.7 495.0,704.7 495.5,717.3 496.1,714.7 496.6,722.0 497.2,727.2 497.8,720.1 498.4,731.1 499.0,730.5 499.5,720.0 500.1,722.7 500.7,720.7 501.3,729.0 501.9,744.0 502.5,727.5 503.0,739.4 503.6,730.4 504.2,731.9 504.8,747.1 505.3,737.1 505.9,738.0 506.5,739.9 507.0,757.9 507.6,758.4 508.2,746.3 508.7,753.6 509.3,768.6 509.9,752.0 510.4,762.5 510.8,760.9 511.3,771.2 511.7,768.7 512.2,775.3 512.6,770.9 513.1,763.7 513.5,765.6 514.0,767.6 514.4,785.5 514.9,771.4 515.3,773.0 515.8,796.4 516.2,780.7 516.7,800.3 517.1,781.0 517.5,792.5 517.8,788.2 518.2,806.0 518.6,802.3 519.0,805.6 519.4,810.7 519.8,815.6 520.2,803.7 520.6,812.4 521.0,810.8 521.6,803.8 522.3,824.8 523.1,819.4 523.9,827.1 524.6,812.9 525.4,823.0 526.2,822.9 527.0,831.7 527.7,814.5 528.5,823.4 529.3,825.4 530.1,818.6 530.8,830.8 531.6,839.9 532.4,833.5 533.1,839.1 533.9,839.8 534.7,831.3 535.4,836.1 536.2,854.9 537.0,839.3 537.7,847.1 538.5,839.9 539.3,848.3 540.0,848.7 540.8,869.0 541.6,863.5 542.3,869.2 543.1,873.9 543.8,866.2 544.4,876.5 545.1,869.6 545.7,868.4 546.4,884.2 547.0,887.1 547.7,889.0 548.3,880.8 548.9,890.3 549.6,881.6 550.2,896.9 550.9,898.7 551.5,884.2 552.2,901.8 552.9,885.1 553.7,885.6 554.4,904.0 555.2,893.7 556.0,901.5 556.8,906.5 557.6,894.7 558.4,915.2 559.2,905.6 559.9,911.6 560.6,911.1 561.3,918.2 561.9,920.2 562.5,909.9 563.2,912.8 563.8,919.9 564.5,924.7 565.1,915.8 565.8,919.7 566.4,937.7 567.0,933.2 567.7,942.4 568.3,944.4 569.1,945.6 570.1,934.0 571.3,931.3 572.5,936.9 573.7,944.0 574.9,947.3 576.1,946.4 577.3,944.7 578.5,959.3 579.7,949.0 580.8,955.3 582.0,966.7 583.2,968.9 584.3,957.1 585.5,955.0 586.6,971.6 587.8,953.2 588.9,957.2 590.1,966.2 591.2,970.8 592.4,962.7 593.5,962.1 594.7,967.7 595.9,982.9 597.0,975.8 598.2,987.9 599.4,983.3 600.5,990.0 601.7,970.7 602.9,976.3 604.1,972.9 605.3,983.8 606.5,983.0 607.8,973.3 609.1,988.7 610.3,978.9 611.6,983.1 612.9,983.1 614.2,1003.3 615.5,996.1 616.9,993.6 618.5,990.3 620.0,999.4 621.6,1008.5 623.1,1013.1 624.7,1019.7 626.3,1018.6 627.9,1004.3 629.6,1001.6 631.3,1018.8 633.1,1015.3 634.8,1010.0 636.5,1021.9 638.2,1014.1 639.8,1010.8 641.4,1011.1 643.0,1009.1 644.5,1019.8 646.1,1026.1 647.7,1029.1 649.3,1023.3 650.9,1028.5 652.4,1034.4 654.0,1035.2 655.6,1034.6 657.2,1030.3 658.7,1033.5 660.4,1029.7 662.1,1026.8 663.9,1037.0 665.8,1043.3 667.6,1034.9 669.4,1035.0 671.2,1034.8 672.7,1037.8 674.2,1044.4 675.6,1041.4 677.1,1049.4 678.5,1038.1 679.9,1041.6 681.4,1047.0 682.9,1046.5 684.5,1057.1 686.2,1058.5 687.9,1058.1 689.6,1055.7 691.3,1047.9 693.0,1058.1 694.6,1057.2 696.2,1056.9 697.8,1052.1 699.3,1061.7 700.9,1066.2 702.4,1054.6 704.0,1064.8 705.7,1058.0 707.6,1064.8 709.5,1069.4 711.4,1069.0 713.4,1064.9 715.3,1056.0 717.2,1067.3 719.2,1055.1 721.1,1054.7 723.1,1063.8 725.0,1054.7 727.0,1053.5 728.9,1064.6 730.9,1063.6 732.8,1052.1 734.7,1054.3 736.7,1052.0 738.7,1050.9 740.6,1054.6 742.6,1064.6 744.5,1051.4 746.5,1053.5 748.5,1051.9 750.4,1052.1 752.4,1060.7 754.3,1061.3 756.3,1066.9 758.2,1060.9 760.2,1065.2 762.1,1055.6 764.1,1060.0 766.0,1070.0 768.0,1056.9 769.9,1060.4 771.9,1062.5 773.8,1060.7 775.8,1062.2 777.7,1056.4 779.7,1057.9 781.7,1069.5 783.7,1057.0 785.6,1068.7 787.6,1056.7 789.6,1068.4 791.5,1063.4 793.5,1060.6 795.5,1053.6 797.5,1054.0 799.5,1065.5 801.5,1055.6 803.5,1058.1 805.5,1067.4 807.5,1068.9 809.5,1055.8 811.5,1068.5 813.5,1063.8 815.5,1061.6 817.4,1055.9 819.4,1058.9 821.4,1067.7 823.4,1057.2 825.4,1058.0 827.4,1057.6 829.4,1055.0 831.4,1058.6 833.4,1067.8 835.4,1054.6 837.4,1054.0 839.4,1066.8 841.4,1067.2 843.4,1067.1 845.4,1056.7 847.3,1060.4 849.3,1069.6 851.3,1061.6 853.3,1065.4 855.2,1061.5 857.2,1057.5 859.2,1062.2 861.2,1065.2 863.2,1066.4 865.1,1064.1 867.1,1061.9 869.1,1063.9 871.1,1060.6 873.1,1062.6 875.0,1067.4 877.0,1058.2 879.0,1066.0 881.0,1071.3 883.0,1070.4 885.0,1058.2 887.0,1070.1 889.0,1068.1 891.0,1058.8 893.0,1062.7 895.0,1061.6 896.9,1059.1 898.9,1069.0 900.8,1060.3 902.8,1068.5 904.7,1056.1 906.7,1055.7 908.6,1065.5 910.6,1064.9 912.5,1066.2 914.5,1061.6 916.4,1059.7 918.4,1060.4 920.3,1054.7 922.3,1062.0 924.2,1058.6 926.1,1056.5 928.1,1063.2 930.0,1059.3 932.0,1061.0 933.9,1059.2 935.9,1059.5 937.8,1059.4 939.8,1066.0 941.7,1068.6 943.7,1068.7 945.7,1068.8 947.6,1068.3 949.6,1060.2 951.5,1067.9 953.5,1059.7 955.5,1059.1 957.4,1061.7 959.4,1062.7 961.4,1059.7 963.3,1062.5 965.3,1059.2 967.3,1065.1 969.3,1060.2 971.3,1062.0 973.3,1062.9 975.3,1066.1 977.3,1066.1 979.3,1063.3 981.2,1062.0 983.2,1064.7 985.2,1058.5 987.2,1061.8 989.2,1066.1 991.1,1064.1 993.1,1058.1 995.1,1066.7 997.0,1062.3 999.0,1067.5 1001.0,1062.2 1002.9,1062.8 1004.9,1066.4 1006.9,1069.4 1008.9,1065.3 1010.9,1069.7 1012.9,1068.2 1014.9,1065.1 1016.9,1065.3 1018.9,1066.2 1020.9,1065.6 1022.9,1065.0 1024.8,1067.9 1026.8,1067.4 1028.8,1066.3 1030.8,1062.6 1032.8,1061.9 1034.8,1063.5 1036.8,1064.9 1038.8,1060.4 1040.7,1059.7 1042.7,1060.1 1044.7,1059.7 1046.7,1058.7 1048.7,1061.9 1050.7,1065.2 1052.6,1062.8 1054.6,1064.2 1056.6,1066.0 1058.6,1066.0 1060.6,1067.0 1062.6,1062.2 1064.5,1066.3 1066.5,1061.6 1068.5,1067.7 1070.5,1065.1 1072.5,1064.8 1074.4,1068.8 1076.4,1061.8 1078.4,1062.0 1080.4,1067.9 1082.4,1064.6 1084.4,1061.1 1086.4,1059.9 1088.4,1062.8 1090.4,1059.4 1092.4,1065.5 1094.4,1058.8 1096.3,1060.8 1098.3,1061.9 1100.3,1062.1 1102.3,1062.7 1104.3,1063.4 1106.3,1063.2 1108.2,1060.9 1110.2,1057.4 1112.2,1064.7 1114.2,1063.2 1116.1,1056.8 1118.1,1060.6 1120.1,1063.0 1122.1,1063.9 1124.1,1056.9 1126.1,1055.9 1128.1,1058.3 1130.1,1060.3 1132.0,1064.4 1134.0,1064.3 1136.0,1061.5 1138.0,1061.1 1140.0,1063.7 1142.0,1066.6 1144.0,1060.3 1146.0,1061.5 1148.0,1059.7 1150.0,1064.4 1151.9,1057.7 1153.9,1064.4 1155.9,1061.1 1157.9,1060.4 1159.9,1055.4 1161.9,1055.4 1163.9,1058.6 1165.9,1061.4 1167.9,1059.1 1169.9,1057.9 1171.9,1063.7 1173.9,1060.9 1175.9,1060.6 1177.9,1057.0 1179.9,1058.6 1181.9,1063.6 1183.9,1057.8 1185.9,1061.6 1187.8,1062.4 1189.8,1059.1 1191.7,1063.3 1193.7,1065.5 1195.6,1065.5 1197.6,1064.5 1199.5,1059.1 1201.4,1058.8 1203.4,1063.1 1205.3,1062.4 1207.3,1062.2 1209.3,1068.3 1211.2,1062.3 1213.2,1067.0 1215.2,1067.9 1217.2,1062.1 1219.2,1067.9 1221.2,1063.8 1223.2,1060.6 1225.2,1060.0 1227.2,1060.0 1229.2,1063.1 1231.2,1062.1 1233.1,1065.3 1235.1,1065.4 1237.1,1058.5 1239.1,1059.8 1241.1,1060.9 1243.1,1058.4 1245.1,1058.8 1247.1,1058.7 1249.1,1062.8 1251.1,1059.0 1253.1,1057.5 1255.1,1059.2 1257.1,1061.9 1259.1,1060.6 1261.1,1057.3 1263.1,1062.8 1265.1,1058.3 1267.1,1062.9 1269.1,1060.5 1271.1,1057.6 1273.1,1062.3 1275.1,1060.6 1277.1,1060.4 1279.1,1061.8 1281.1,1063.0 1283.1,1059.6 1285.1,1057.5 1287.1,1064.6 1289.1,1065.6 1291.1,1061.5 1293.1,1062.2 1295.1,1058.8 1297.0,1065.5 1299.0,1062.4 1301.0,1057.6 1303.0,1064.2 1305.0,1065.3 1307.0,1060.3 1309.0,1064.3 1311.0,1059.8 1313.0,1057.4 1315.0,1061.2 1317.0,1057.9 1319.0,1062.1 1321.0,1059.3 1323.0,1056.0 1325.0,1060.3 1327.0,1062.8 1328.9,1058.7 1330.9,1059.0 1332.9,1062.5 1334.9,1059.7 1336.9,1059.3 1338.9,1059.7 1340.9,1063.3 1342.9,1057.6 1344.8,1057.6 1346.8,1063.6 1348.7,1062.3 1350.7,1059.4 1352.6,1065.0 1354.6,1064.6 1356.5,1062.2 1358.5,1066.3 1360.4,1066.3 1362.4,1065.4 1364.3,1060.2 1366.3,1059.1 1368.3,1064.2 1370.3,1065.2 1372.3,1062.2 1374.3,1063.5 1376.2,1064.0 1378.2,1061.6 1380.2,1066.0 1382.2,1063.4 1384.2,1062.3 1386.2,1058.9 1388.2,1061.6 1390.2,1060.6 1392.2,1064.3 1394.2,1058.4 1396.2,1059.2 1398.1,1058.4 1400.1,1060.4 1402.1,1061.2 1404.1,1057.8 1406.1,1056.1 1408.1,1060.1 1410.1,1055.9 1412.1,1059.7 1414.1,1057.5 1416.1,1055.6 1418.1,1058.6 1420.1,1062.8 1422.1,1063.2 1424.1,1059.0 1426.1,1059.1 1428.1,1056.4 1430.1,1058.9 1432.1,1059.2 1434.0,1063.4 1436.0,1055.5 1438.0,1062.9 1440.0,1058.6 1441.9,1058.2 1443.9,1055.5 1445.9,1061.6 1447.9,1056.3 1449.9,1059.2 1451.8,1058.4 1453.8,1056.0 1455.8,1056.5 1457.8,1061.4 1459.8,1061.3 1461.8,1059.4 1463.8,1061.1 1465.8,1053.7 1467.8,1059.8 1469.8,1060.3 1471.8,1055.0 1473.8,1056.7 1475.8,1060.1 1477.8,1055.7 1479.8,1059.0 1481.7,1054.1 1483.7,1059.5 1485.7,1055.6 1487.7,1057.6 1489.7,1055.7 1491.6,1061.6 1493.6,1061.7 1495.6,1058.3 1497.6,1059.5 1499.5,1057.0 1501.4,1060.5 1503.3,1054.6 1505.1,1057.6 1507.0,1055.3 1508.9,1053.0 1510.8,1051.0 1512.7,1051.7 1514.7,1057.6 1516.6,1055.0 1518.5,1059.6 1520.5,1057.4 1522.4,1062.7 1524.4,1062.5 1526.3,1062.1 1528.3,1057.7 1530.2,1056.0 1532.2,1060.3 1534.1,1062.0 1536.1,1063.7 1538.1,1058.3 1540.1,1057.3 1542.1,1064.1 1544.0,1061.4 1546.0,1059.1 1548.0,1060.5 1550.0,1056.7 1552.0,1058.9 1553.9,1059.9 1555.9,1059.6 1557.9,1054.8 1559.9,1054.0 1561.9,1059.5 1563.9,1061.2 1565.9,1054.2 1567.9,1053.8 1569.9,1054.9 1571.9,1059.6 1573.9,1055.4 1575.9,1055.3 1577.9,1060.4 1579.8,1058.8 1581.7,1055.0 1583.6,1059.6 1585.5,1054.9 1587.5,1056.5 1589.4,1062.0 1591.3,1057.9 1593.2,1057.6 1595.1,1060.9 1597.0,1060.8 1599.0,1066.3 1601.0,1059.3 1602.9,1065.8 1604.9,1061.4 1606.9,1064.7 1608.9,1060.6 1610.9,1062.6 1612.9,1059.9 1614.9,1058.9 1616.9,1062.5 1618.9,1064.7 1620.9,1060.7 1622.9,1060.3 1624.9,1060.0 1626.9,1058.1 1628.9,1059.0 1630.9,1062.0 1632.9,1060.7 1634.9,1062.6 1636.9,1060.3 1638.9,1057.7 1640.9,1057.3 1642.9,1059.3 1644.9,1059.0 1646.9,1060.5 1648.9,1058.8 1650.9,1063.1 1652.9,1063.0 1654.9,1062.7 1656.9,1063.8 1658.9,1060.9 1660.9,1060.8 1662.9,1059.1 1664.9,1057.5 1666.9,1062.2 1668.9,1061.0 1670.9,1057.0 1672.9,1064.3 1674.9,1060.9 1676.9,1060.8 1678.9,1060.6 1680.9,1057.1 1682.9,1063.9 1684.9,1056.5 1686.9,1059.1 1688.9,1063.9 1690.9,1057.6 1692.9,1060.2 1694.9,1060.8 1696.9,1058.0 1698.4,1064.1"/>
</g>
<g id="ticklabels" font-family="'Liberation Sans', sans-serif" font-size="64" fill="#000">
<text transform="translate(300.0,1156.0) scale(1,1.034)" text-anchor="middle">0.0</text>
<text transform="translate(531.7,1156.0) scale(1,1.034)" text-anchor="middle">2.5</text>
<text transform="translate(763.3,1156.0) scale(1,1.034)" text-anchor="middle">5.0</text>
<text transform="translate(995.0,1156.0) scale(1,1.034)" text-anchor="middle">7.5</text>
<text transform="translate(1226.7,1156.0) scale(1,1.034)" text-anchor="middle">10.0</text>
<text transform="translate(1458.3,1156.0) scale(1,1.034)" text-anchor="middle">12.5</text>
<text transform="translate(1690.0,1156.0) scale(1,1.034)" text-anchor="middle">15.0</text>
<text transform="translate(264.3,1091.9) scale(1,1.034)" text-anchor="end">0.0</text>
<text transform="translate(264.3,893.8) scale(1,1.034)" text-anchor="end">0.2</text>
<text transform="translate(264.3,695.7) scale(1,1.034)" text-anchor="end">0.4</text>
<text transform="translate(264.3,497.6) scale(1,1.034)" text-anchor="end">0.6</text>
<text transform="translate(264.3,299.5) scale(1,1.034)" text-anchor="end">0.8</text>
<text transform="translate(264.3,101.4) scale(1,1.034)" text-anchor="end">1.0</text>
</g>
<g id="labels" font-family="'Liberation Serif', serif" fill="#000">
<text transform="translate(995.5,1258.3) scale(1,0.96)" font-size="65" text-anchor="middle">time(s)</text>
<text transform="translate(83.7,595.9) rotate(-90) scale(0.97,1)" font-size="65" text-anchor="middle"><tspan font-style="italic">a</tspan>(m/s<tspan font-size="40" dy="-32.5">2</tspan><tspan dy="32.5">)</tspan></text>
<text transform="translate(960.5,1397.9) scale(0.924,0.985)" font-size="88" text-anchor="middle">(<tspan font-weight="bold">c</tspan>)</text>
<rect x="1309" y="136.8" width="123" height="10" fill="#00ff00" shape-rendering="crispEdges"/>
<text transform="translate(1446.3,160.4) scale(1.047,0.99)" font-size="53">1000rpm</text>
<rect x="1309" y="202.5" width="123" height="10" fill="#0000ff" shape-rendering="crispEdges"/>
<text transform="translate(1444.8,225.8) scale(1.047,0.99)" font-size="53">1500rpm</text>
<rect x="1309" y="268.0" width="123" height="10" fill="#000000" shape-rendering="crispEdges"/>
<text transform="translate(1444.8,291.0) scale(1.047,0.99)" font-size="53">2000rpm</text>
<rect x="1309" y="333.0" width="123" height="10" fill="#ff0000" shape-rendering="crispEdges"/>
<text transform="translate(1444.8,355.8) scale(1.047,0.99)" font-size="53">2500rpm</text>
</g>
</svg>
</body>
</html>
